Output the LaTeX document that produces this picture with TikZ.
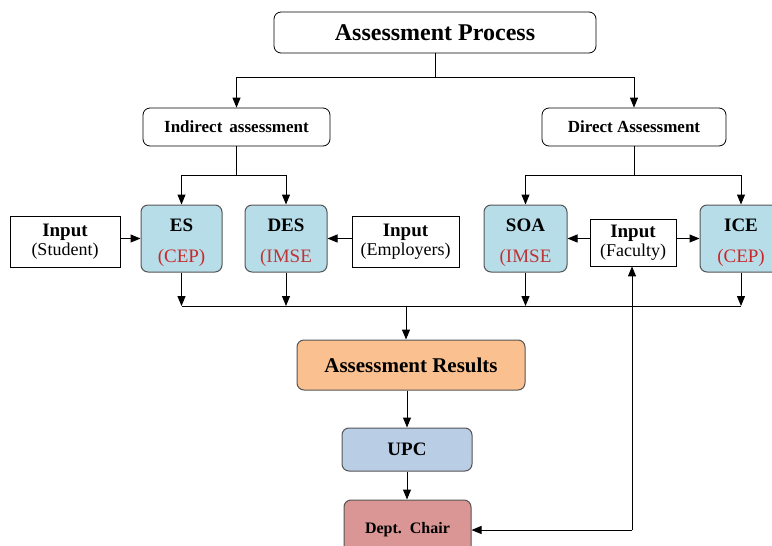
\documentclass[tikz,border=0pt]{standalone}
\usepackage{fontspec}
\setmainfont{Liberation Serif}
\usetikzlibrary{arrows.meta}
\definecolor{cblue}{HTML}{B7DDE8}
\definecolor{corange}{HTML}{FAC090}
\definecolor{cupc}{HTML}{B9CDE5}
\definecolor{cchair}{HTML}{D99694}
\definecolor{cred}{HTML}{C8282A}
\definecolor{cedge}{HTML}{555555}
\tikzset{
  rbox/.style={draw=black, rounded corners=7pt, line width=0.8pt, fill=white, inner sep=0pt},
  cbox/.style={draw=cedge, rounded corners=7pt, line width=1pt, inner sep=0pt, align=center},
  inbox/.style={draw=black, line width=0.8pt, fill=white, inner sep=0pt, align=center},
  ttl/.style={font=\bfseries\fontsize{19}{21}\selectfont, inner sep=0pt},
  sub/.style={font=\fontsize{19}{21}\selectfont, inner sep=0pt},
  arr/.style={-{Triangle[length=10pt,width=8pt]}, line width=1pt},
  ln/.style={line width=1pt}
}
\begin{document}
\begin{tikzpicture}[x=1pt,y=-1pt]
\useasboundingbox (0,0) rectangle (772,546);
\fill[white] (0,0) rectangle (772,546);
% top
\node[rbox, minimum width=322pt, minimum height=41pt, font=\bfseries\fontsize{24}{26}\selectfont] (ap) at (435,32.5) {Assessment Process};
\node[rbox, minimum width=187pt, minimum height=38pt, font=\bfseries\fontsize{17}{19}\selectfont] (ind) at (236.5,127) {Indirect\, assessment};
\node[rbox, minimum width=184pt, minimum height=38pt, font=\bfseries\fontsize{17}{19}\selectfont] (dir) at (634,127) {Direct Assessment};
% second level
\node[cbox, fill=cblue, minimum width=81pt, minimum height=67pt] (es) at (181.5,238.5) {};
\node[cbox, fill=cblue, minimum width=82pt, minimum height=67pt] (des) at (286,238.5) {};
\node[cbox, fill=cblue, minimum width=83pt, minimum height=67pt] (soa) at (525.5,238.5) {};
\node[cbox, fill=cblue, minimum width=82pt, minimum height=67pt] (ice) at (741,238.5) {};
\node[ttl] (es-t) at (181.5,225) {ES};
\node[sub, text=cred] (es-s) at (181.5,258) {(CEP)};
\node[ttl] (des-t) at (286,225) {DES};
\node[sub, text=cred!85!gray] (des-s) at (286,258) {(IMSE};
\node[ttl] (soa-t) at (525.5,225) {SOA};
\node[sub, text=cred!85!gray] (soa-s) at (525.5,258) {(IMSE};
\node[ttl] (ice-t) at (741,225) {ICE};
\node[sub, text=cred] (ice-s) at (741,258) {(CEP)};
% inputs
\node[inbox, minimum width=110pt, minimum height=51pt] (ins) at (65,241.5) {{\bfseries\fontsize{19}{21}\selectfont Input}\\[1pt]{\fontsize{18}{20}\selectfont (Student)}};
\node[inbox, minimum width=107pt, minimum height=51pt] (inm) at (405.5,241.5) {{\bfseries\fontsize{19}{21}\selectfont Input}\\[1pt]{\fontsize{18}{20}\selectfont (Employers)}};
\node[inbox, minimum width=86pt, minimum height=47pt] (inf) at (633,242.5) {{\bfseries\fontsize{19}{21}\selectfont Input}\\[1pt]{\fontsize{18}{20}\selectfont (Faculty)}};
% bottom
\node[cbox, fill=corange, minimum width=228pt, minimum height=50pt, font=\bfseries\fontsize{21}{23}\selectfont] (ar) at (411,365) {Assessment Results};
\node[cbox, fill=cupc, minimum width=130pt, minimum height=43pt, font=\bfseries\fontsize{19}{21}\selectfont] (upc) at (407,449.5) {UPC};
\node[cbox, fill=cchair, minimum width=127pt, minimum height=60pt] (dc) at (407.5,530) {};
\node[font=\bfseries\fontsize{16}{18}\selectfont] (dct) at (407.5,530) {Dept.\, Chair};
% connectors top
\coordinate (j1) at (435,77);
\draw[ln] (ap.south) -- (j1);
\draw[arr] (j1) -| (ind.north);
\draw[arr] (j1) -| (dir.north);
\coordinate (j2) at (236.5,175);
\draw[ln] (ind.south) -- (j2);
\draw[arr] (j2) -| (es.north);
\draw[arr] (j2) -| (des.north);
\coordinate (j3) at (634,175);
\draw[ln] (dir.south) -- (j3);
\draw[arr] (j3) -| (soa.north);
\draw[arr] (j3) -| (ice.north);
% inputs
\draw[arr] (ins.east |- es.west) -- (es.west);
\draw[arr] (inm.west |- des.east) -- (des.east);
\draw[arr] (inf.west |- soa.east) -- (soa.east);
\draw[arr] (inf.east |- ice.west) -- (ice.west);
% collection
\coordinate (b1) at (181.5,306);
\coordinate (b4) at (741,306);
\coordinate (b0) at (406,306);
\draw[ln] (b1) -- (b4);
\draw[arr] (es.south) -- (b1);
\draw[arr] (des.south) -- (des.south |- b1);
\draw[arr] (soa.south) -- (soa.south |- b1);
\draw[arr] (ice.south) -- (b4);
\draw[arr] (b0) -- (b0 |- ar.north);
\draw[arr] (ar.south -| upc.north) -- (upc.north);
\draw[arr] (upc.south) -- (upc.south |- dc.north);
% feedback
\coordinate (f1) at (632,530);
\draw[arr] (f1) -- (f1 |- inf.south);
\draw[arr] (f1) -- (dc.east);
\end{tikzpicture}
\end{document}
